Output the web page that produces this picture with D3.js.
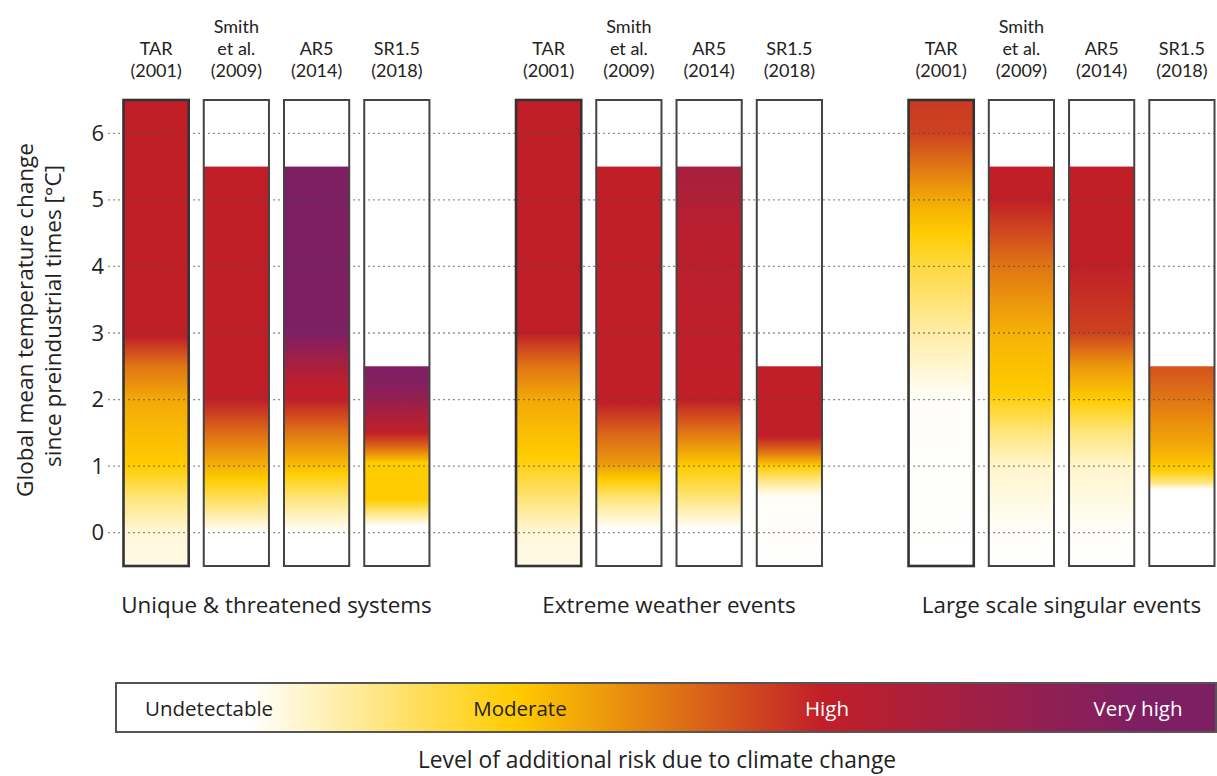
<!DOCTYPE html>
<html>
<head>
<meta charset="utf-8">
<script src="https://cdn.jsdelivr.net/npm/d3@7"></script>
<style>
  body { margin: 0; background: #fff; }
  svg { display: block; font-family: "Open Sans", sans-serif; }
</style>
</head>
<body>
<svg width="1217" height="776"></svg>
<script>
// reasons for concern and the assessments compared in each
const groups = ["Unique & threatened systems", "Extreme weather events", "Large scale singular events"];
const assessments = ["TAR", "Smith et al.", "AR5", "SR1.5"];
const assessmentLines = [["TAR", "(2001)"], ["Smith", "et al.", "(2009)"], ["AR5", "(2014)"], ["SR1.5", "(2018)"]];
const yTicks = [0, 1, 2, 3, 4, 5, 6];

const riskLabels = ["Undetectable", "Moderate", "High", "Very high"];
const riskLevels = [0, 1, 2, 3];
const riskColors = ["#ffffff", "#ffcc00", "#c11f28", "#7f1f63"];

// range assessed, in °C above preindustrial
const barFloor = -0.5;
const barTops = [6.5, 5.5, 5.5, 2.5];

// risk transitions per assessment: [temperature, risk level]
const uniqueSystems = [
  [[-0.5, 0.1], [0, 0.15], [0.5, 0.5], [1, 1], [2, 1.2], [2.5, 1.5], [2.95, 2], [6.5, 2]],
  [[-0.5, 0], [0, 0], [0.8, 1], [1, 1.15], [1.5, 1.55], [2, 2], [5.5, 2]],
  [[-0.5, 0], [0, 0], [0.5, 0.5], [0.9, 1], [1.5, 1.5], [2, 2], [2.3, 2.1], [3, 3], [5.5, 3]],
  [[-0.5, 0], [0.1, 0], [0.5, 1], [1.05, 1], [1.3, 1.6], [1.5, 2], [2.2, 2.9], [2.5, 3]]
];
const extremeWeather = [
  [[-0.5, 0.1], [0, 0.15], [0.6, 0.6], [1.15, 1], [2, 1.2], [2.5, 1.5], [3, 2], [6.5, 2]],
  [[-0.5, 0], [0.05, 0], [0.5, 0.5], [0.8, 1], [1.05, 1.3], [1.5, 1.6], [1.95, 2], [5.5, 2]],
  [[-0.5, 0], [0.05, 0], [0.6, 0.6], [1, 1], [1.5, 1.5], [2, 2], [4.5, 2.1], [5.5, 2.4]],
  [[-0.5, 0], [0.55, 0.03], [0.75, 0.4], [1, 1], [1.25, 1.6], [1.45, 2], [2.5, 2]]
];
const singularEvents = [
  [[-0.5, 0], [2, 0.02], [3, 0.35], [4, 0.75], [4.5, 1], [5, 1.2], [5.5, 1.5], [6, 1.8], [6.5, 1.85]],
  [[-0.5, 0], [0, 0.02], [1, 0.2], [1.5, 0.5], [2.1, 1], [3, 1.15], [4, 1.5], [5, 2], [5.5, 2]],
  [[-0.5, 0], [0, 0.02], [1, 0.2], [1.5, 0.5], [2, 1], [2.5, 1.3], [3, 1.8], [4, 2], [5.5, 2]],
  [[-0.5, 0], [0.65, 0], [0.75, 0.5], [0.95, 1], [1.3, 1.2], [2, 1.5], [2.5, 1.7]]
];
const groupRisks = [uniqueSystems, extremeWeather, singularEvents];

const svg = d3.select("svg"),
    width = +svg.attr("width");

var y = d3.scaleLinear().domain([barFloor, d3.max(barTops)]).range([566, 100]);
var x0 = d3.scaleBand().domain(groups).range([123, 1215]).paddingInner(0.218);
var x1 = d3.scaleBand().domain(assessments).range([0, x0.bandwidth()]).paddingInner(0.175);
var risk = d3.scaleLinear().domain(riskLevels).range(riskColors);

var defs = svg.append("defs");

// turn a profile into gradient stops, adding a stop wherever a level is crossed
function gradientStops(profile, top) {
  var stops = [];
  profile.forEach(function(p, i) {
    if (i > 0) {
      var a = profile[i - 1];
      riskLevels.forEach(function(k) {
        if ((k - a[1]) * (k - p[1]) < 0) stops.push([a[0] + (p[0] - a[0]) * (k - a[1]) / (p[1] - a[1]), k]);
      });
    }
    stops.push(p);
  });
  return stops.map(function(s) { return {offset: (s[0] - barFloor) / (top - barFloor), color: risk(s[1])}; });
}

// y axis labels
svg.append("g")
    .attr("transform", "translate(104,0)")
    .call(d3.axisLeft(y).tickValues(yTicks).tickFormat(d3.format("d")).tickSize(0).tickPadding(0))
    .call(g => g.select(".domain").remove())
    .selectAll("text")
      .style("font", "22px 'Open Sans', sans-serif")
      .attr("fill", "#222");

svg.append("text")
    .attr("transform", "translate(33,320) rotate(-90)")
    .attr("text-anchor", "middle")
    .style("font-size", "22.5px")
    .attr("fill", "#222")
    .text("Global mean temperature change");
svg.append("text")
    .attr("transform", "translate(61,316) rotate(-90)")
    .attr("text-anchor", "middle")
    .style("font-size", "22.5px")
    .attr("fill", "#222")
    .text("since preindustrial times [°C]");

var group = svg.selectAll(".group")
  .data(groups)
  .enter().append("g")
    .attr("class", "group")
    .attr("transform", function(d) { return "translate(" + x0(d) + ",0)"; });

group.append("text")
    .attr("x", x0.bandwidth() / 2)
    .attr("y", 613)
    .attr("text-anchor", "middle")
    .style("font-size", "22.4px")
    .attr("fill", "#222")
    .text(function(d) { return d; });

var bar = group.selectAll(".bar")
  .data(function(d, gi) {
    return assessments.map(function(a, i) { return {group: gi, key: a, index: i, top: barTops[i], profile: groupRisks[gi][i]}; });
  })
  .enter().append("g")
    .attr("class", "bar")
    .attr("transform", function(d) { return "translate(" + x1(d.key) + ",0)"; });

bar.each(function(d) {
  var id = "grad-" + d.group + "-" + d.index;
  defs.append("linearGradient")
      .attr("id", id)
      .attr("x1", 0).attr("y1", 1).attr("x2", 0).attr("y2", 0)
    .selectAll("stop")
    .data(gradientStops(d.profile, d.top))
    .enter().append("stop")
      .attr("offset", function(s) { return s.offset; })
      .attr("stop-color", function(s) { return s.color; });
  d.grad = id;
});

bar.append("rect")
    .attr("width", x1.bandwidth())
    .attr("y", y(d3.max(barTops)))
    .attr("height", y(barFloor) - y(d3.max(barTops)))
    .attr("fill", "#fff");

bar.append("rect")
    .attr("width", x1.bandwidth())
    .attr("y", function(d) { return y(d.top); })
    .attr("height", function(d) { return y(barFloor) - y(d.top); })
    .attr("fill", function(d) { return "url(#" + d.grad + ")"; });

// header above each bar, one text per line
bar.selectAll(".head")
  .data(function(d) { return assessmentLines[d.index].map(function(t, i, a) { return {text: t, row: a.length - 1 - i}; }); })
  .enter().append("text")
    .attr("class", "head")
    .attr("x", x1.bandwidth() / 2)
    .attr("y", function(t) { return 77 - t.row * 22; })
    .attr("text-anchor", "middle")
    .style("font", "18px Lato, sans-serif")
    .attr("fill", "#222")
    .text(function(t) { return t.text; });

// dotted gridlines lie over the bars
svg.append("g")
  .selectAll("line")
  .data(yTicks)
  .enter().append("line")
    .attr("x1", 108)
    .attr("x2", width)
    .attr("y1", function(d) { return y(d); })
    .attr("y2", function(d) { return y(d); })
    .style("stroke", "rgba(70, 70, 70, 0.6)")
    .style("stroke-width", 1.3)
    .style("stroke-dasharray", "2,3");

bar.append("rect")
    .attr("x", 0.5)
    .attr("width", x1.bandwidth() - 1)
    .attr("y", y(d3.max(barTops)))
    .attr("height", y(barFloor) - y(d3.max(barTops)))
    .attr("fill", "none")
    .style("stroke", function(d) { return d.index === 0 ? "#333" : "#444"; })
    .style("stroke-width", function(d) { return d.index === 0 ? 2.6 : 2; });

// legend
var legend = {x: 116, y: 683, w: 1100, h: 49};
var legendX = d3.scaleLinear().domain(riskLevels).range([250, 515, 822, 1133]);

defs.append("linearGradient")
    .attr("id", "legend-grad")
  .selectAll("stop")
  .data(riskLevels)
  .enter().append("stop")
    .attr("offset", function(d) { return (legendX(d) - legend.x) / legend.w; })
    .attr("stop-color", function(d) { return risk(d); });

svg.append("rect")
    .attr("x", legend.x)
    .attr("y", legend.y)
    .attr("width", legend.w)
    .attr("height", legend.h)
    .attr("fill", "url(#legend-grad)")
    .style("stroke", "#555")
    .style("stroke-width", 2);

svg.append("g")
  .selectAll("text")
  .data(riskLevels)
  .enter().append("text")
    .attr("x", function(d) { return d === 0 ? 145 : legendX(d) + 5; })
    .attr("y", 716)
    .attr("text-anchor", function(d) { return d === 0 ? "start" : "middle"; })
    .style("font-size", "20.5px")
    .attr("fill", function(d) { return d >= 2 ? "#fff" : "#222"; })
    .text(function(d) { return riskLabels[d]; });

svg.append("text")
    .attr("x", 657)
    .attr("y", 768)
    .attr("text-anchor", "middle")
    .style("font-size", "22.8px")
    .attr("fill", "#222")
    .text("Level of additional risk due to climate change");
</script>
</body>
</html>
